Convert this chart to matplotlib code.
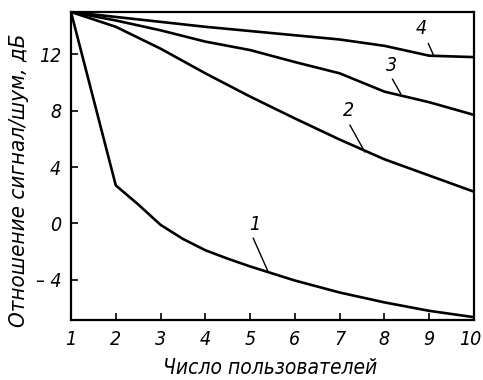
import matplotlib
matplotlib.use("Agg")
import matplotlib.pyplot as plt
from matplotlib import font_manager as fm
from matplotlib.ft2font import FT2Font
import os

users = [1, 2, 3, 4, 5, 6, 7, 8, 9, 10]
users1 = [1, 2, 2.5, 3, 3.5, 4, 4.5, 5, 6, 7, 8, 9, 10]
curve1 = [15, 2.7, 1.35, -0.1, -1.1, -1.9, -2.5, -3.05, -4.05, -4.9, -5.6, -6.2, -6.65]
curve2 = [15, 13.95, 12.4, 10.65, 9.0, 7.45, 5.95, 4.55, 3.4, 2.25]
curve3 = [15, 14.4, 13.7, 12.9, 12.3, 11.45, 10.65, 9.35, 8.6, 7.7]
curve4 = [15, 14.65, 14.3, 13.95, 13.65, 13.35, 13.05, 12.6, 11.9, 11.8]
curve_labels = ["1", "2", "3", "4"]
xticks = [1, 2, 3, 4, 5, 6, 7, 8, 9, 10]
yticks = [-4, 0, 4, 8, 12]
ytick_labels = ["\u2013 4", "0", "4", "8", "12"]
xlabel = "Число пользователей"
ylabel = "Отношение сигнал/шум, дБ"

need = set(ord(ch) for ch in (xlabel + ylabel + "0123456789\u2013"))

def covers(path):
    try:
        cm = FT2Font(path).get_charmap()
        return need.issubset(set(cm.keys()))
    except Exception:
        return False

fname = None
prefs = [
    lambda b: "narrow" in b and "italic" in b and "bold" not in b,
    lambda b: "condensed" in b and ("oblique" in b or "italic" in b) and "bold" not in b
              and "semi" not in b and "extra" not in b and "light" not in b and "medium" not in b
              and "black" not in b and "thin" not in b,
    lambda b: "condensed" in b and ("oblique" in b or "italic" in b) and "bold" not in b,
]
files = sorted(set(f.fname for f in fm.fontManager.ttflist))
for p in prefs:
    hits = [f for f in files if p(os.path.basename(f).lower())
            and "mono" not in os.path.basename(f).lower()
            and "serif" not in os.path.basename(f).lower()]
    hits = [h for h in hits if covers(h)]
    if hits:
        order = ["liberation", "dejavu", "notosans-", "roboto", "opensans"]
        def rank(h):
            b = os.path.basename(h).lower()
            for i, o in enumerate(order):
                if b.startswith(o):
                    return i
            return 99
        fname = sorted(hits, key=rank)[0]
        break

def fp(size):
    if fname:
        return fm.FontProperties(fname=fname, size=size)
    return fm.FontProperties(family="DejaVu Sans", style="italic", stretch="condensed", size=size)

TS = 14
fig = plt.figure(figsize=(4.83, 3.80), dpi=100)
ax = fig.add_axes([71/483, 1-320/380, (474-71)/483, (320-12)/380])

ax.plot(users1, curve1, color="black", lw=1.9, solid_joinstyle="round")
for c in (curve2, curve3, curve4):
    ax.plot(users, c, color="black", lw=1.9, solid_joinstyle="round")

ax.set_xlim(1, 10)
ax.set_ylim(-6.85, 15)
ax.set_xticks(xticks)
# last tick label ("10") is drawn separately, nudged left so it fits the canvas
ax.set_xticklabels([str(v) for v in xticks[:-1]] + [""], fontproperties=fp(TS))
ax.annotate(str(xticks[-1]), xy=(xticks[-1], 0), xycoords=ax.get_xaxis_transform(),
            xytext=(-2.5, -7), textcoords="offset points", ha="center", va="top",
            fontproperties=fp(TS), annotation_clip=False)
ax.set_yticks(yticks)
ax.set_yticklabels(ytick_labels, fontproperties=fp(TS))
ax.tick_params(direction="in", length=5, width=1.2, colors="black")
ax.tick_params(axis="x", pad=7)
ax.tick_params(axis="y", pad=7)
for s in ax.spines.values():
    s.set_linewidth(1.6)

ax.set_xlabel(xlabel, fontproperties=fp(15))
ax.xaxis.set_label_coords(0.494, -0.125)
ax.set_ylabel(ylabel, fontproperties=fp(16))
ax.yaxis.set_label_coords(-0.105, 0.455)

# curve number labels with leader lines
ann = [
    ("1", (5.11, -0.11), (5.07, -1.05), (5.40, -3.41)),
    ("2", (7.19, 8.04), (7.23, 6.97), (7.56, 5.08)),
    ("3", (8.16, 11.22), (8.18, 10.23), (8.36, 9.22)),
    ("4", (8.83, 13.82), (8.98, 12.76), (9.09, 11.98)),
]
for lbl, tpos, p0, p1 in ann:
    ax.text(tpos[0], tpos[1], lbl, fontproperties=fp(TS), ha="center", va="center")
    ax.plot([p0[0], p1[0]], [p0[1], p1[1]], color="black", lw=1.0)

fig.savefig("out.png", dpi=100)
